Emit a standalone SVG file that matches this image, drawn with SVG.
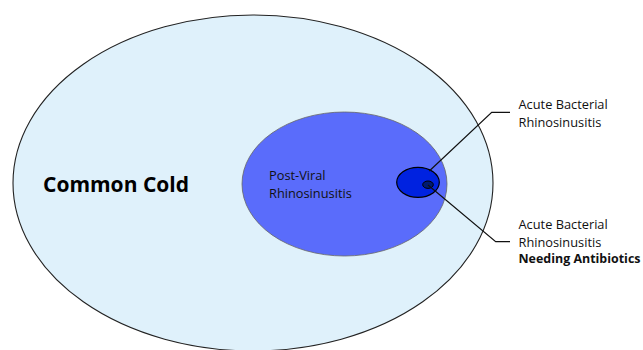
<svg xmlns="http://www.w3.org/2000/svg" width="643" height="350" viewBox="0 0 643 350">
<style>
.t{font-family:"Open Sans","Liberation Sans",sans-serif;font-size:12.8px;fill:#111}
.b{font-weight:bold}
.ln{fill:none;stroke:#111;stroke-width:1.2}
</style>
<rect width="643" height="350" fill="#fff"/>
<g id="common-cold">
<ellipse cx="253" cy="183" rx="240" ry="168" fill="#dff1fb" stroke="#222" stroke-width="1.1"/>
<text x="43" y="192" style="font-family:'Open Sans','Liberation Sans',sans-serif;font-size:21px;font-weight:bold;fill:#000">Common Cold</text>
</g>
<g id="post-viral">
<ellipse cx="344.5" cy="184" rx="102.5" ry="72" fill="#5a6cfb" stroke="#666" stroke-width="0.8"/>
<text class="t" x="269" y="180">Post-Viral</text>
<text class="t" x="269" y="197.7">Rhinosinusitis</text>
</g>
<g id="abrs">
<ellipse cx="418" cy="182.3" rx="21.3" ry="15" fill="#0022e0" stroke="#000" stroke-width="1.2"/>
</g>
<g id="abrs-antibiotics">
<ellipse cx="428" cy="184.7" rx="5.3" ry="3.7" fill="#001a70" stroke="#000" stroke-width="1"/>
</g>
<g id="connectors">
<polyline class="ln" points="429.3,171 491.7,112.3 510,112.3"/>
<polyline class="ln" points="428,185 495.7,241.7 510,241.7"/>
</g>
<g id="label-abrs">
<text class="t" x="518.5" y="109.3">Acute Bacterial</text>
<text class="t" x="518.5" y="126.7">Rhinosinusitis</text>
</g>
<g id="label-abrs-antibiotics">
<text class="t" x="518.5" y="229">Acute Bacterial</text>
<text class="t" x="518.5" y="246.7">Rhinosinusitis</text>
<text class="t b" x="518.5" y="263.3" textLength="122" lengthAdjust="spacingAndGlyphs">Needing Antibiotics</text>
</g>
</svg>
